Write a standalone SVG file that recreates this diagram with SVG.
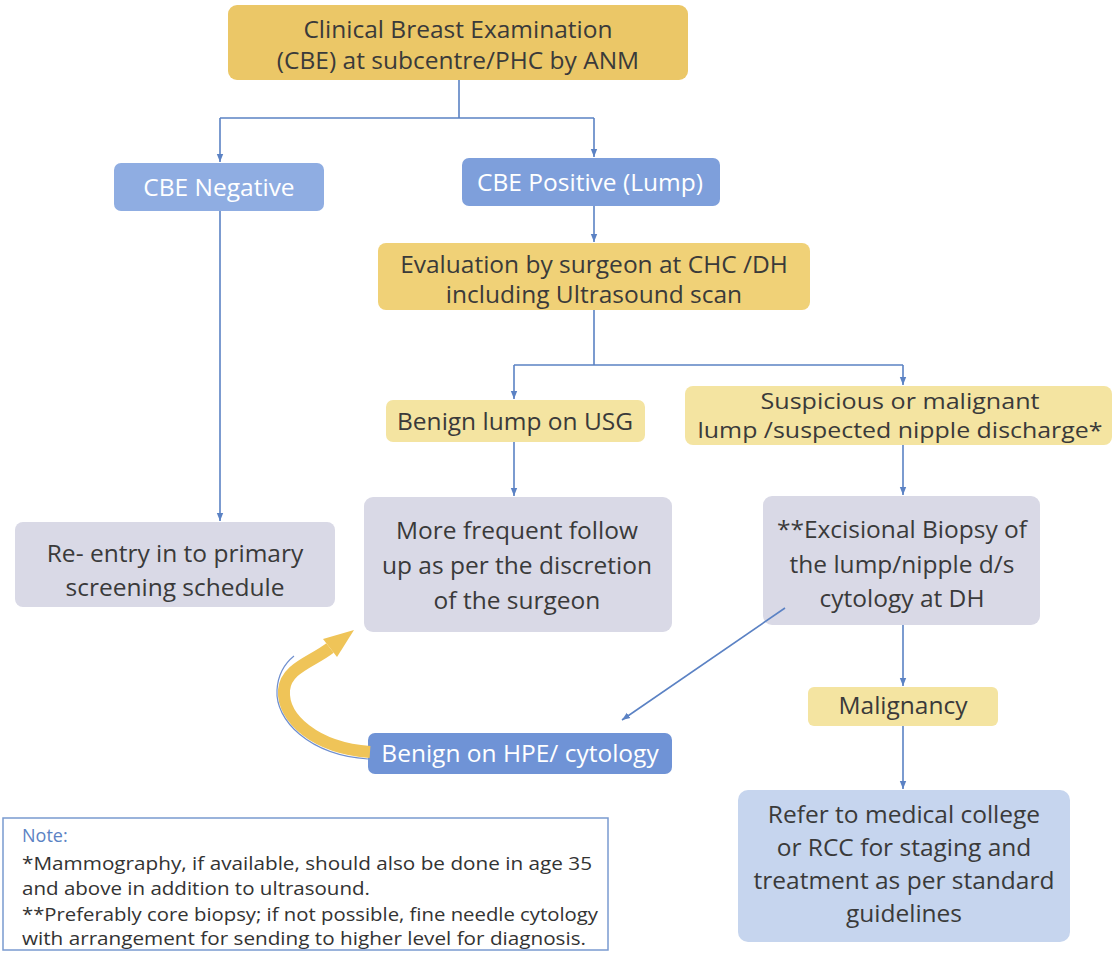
<svg xmlns="http://www.w3.org/2000/svg" width="1116" height="954" viewBox="0 0 1116 954">
<defs>
<style>
.t{font-family:"Open Sans","Noto Sans",sans-serif;font-size:24.5px;font-weight:500;fill:#3a3a3a;text-anchor:middle}
.w{fill:#ffffff}
.n{font-family:"Open Sans","Noto Sans",sans-serif;font-size:18px;fill:#333333}
.c{stroke:#5b82c4;stroke-width:1.6;fill:none}
.ca{stroke:#5b82c4;stroke-width:1.6;fill:none;marker-end:url(#ah)}
.ydark{fill:#ebc767}
.ylight{fill:#f4e4a1}
.gray{fill:#d9d9e6}
</style>
<marker id="ah" viewBox="0 0 10 10" refX="10" refY="5" markerWidth="8" markerHeight="8" markerUnits="userSpaceOnUse" orient="auto">
<path d="M0,1 L10,5 L0,9 Z" fill="#5b82c4"/>
</marker>
</defs>
<rect width="1116" height="954" fill="#ffffff"/>

<g id="n-cbe">
<rect x="228" y="5" width="460" height="75" rx="9" class="ydark"/>
<text class="t" x="458" y="38">Clinical Breast Examination</text>
<text class="t" x="458" y="69">(CBE) at subcentre/PHC by ANM</text>
</g>
<g id="n-neg">
<rect x="114" y="163" width="210" height="48" rx="7" fill="#8fade2"/>
<text class="t w" x="219" y="196">CBE Negative</text>
</g>
<g id="n-pos">
<rect x="462" y="158" width="258" height="48" rx="7" fill="#7e9fdb"/>
<text class="t w" x="590" y="191">CBE Positive (Lump)</text>
</g>
<g id="n-eval">
<rect x="378" y="243" width="432" height="67" rx="8" fill="#f0d177"/>
<text class="t" x="594" y="273">Evaluation by surgeon at CHC /DH</text>
<text class="t" x="594" y="303">including Ultrasound scan</text>
</g>
<g id="n-benign">
<rect x="386" y="400" width="259" height="42" rx="7" class="ylight"/>
<text class="t" x="515" y="430">Benign lump on USG</text>
</g>
<g id="n-susp">
<rect x="685" y="386" width="427" height="59" rx="8" class="ylight"/>
<text class="t" x="900" y="409" style="font-size:21px" textLength="279" lengthAdjust="spacingAndGlyphs">Suspicious or malignant</text>
<text class="t" x="900" y="438" style="font-size:21px" textLength="405" lengthAdjust="spacingAndGlyphs">lump /suspected nipple discharge*</text>
</g>
<g id="n-reentry">
<rect x="15" y="522" width="320" height="85" rx="8" class="gray"/>
<text class="t" x="175" y="562">Re- entry in to primary</text>
<text class="t" x="175" y="596">screening schedule</text>
</g>
<g id="n-follow">
<rect x="364" y="497" width="308" height="135" rx="9" class="gray"/>
<text class="t" x="517" y="539">More frequent follow</text>
<text class="t" x="517" y="574">up as per the discretion</text>
<text class="t" x="517" y="609">of the surgeon</text>
</g>
<g id="n-biopsy">
<rect x="763" y="496" width="277" height="129" rx="9" class="gray"/>
<text class="t" x="902" y="538">**Excisional Biopsy of</text>
<text class="t" x="902" y="573">the lump/nipple d/s</text>
<text class="t" x="902" y="607">cytology at DH</text>
</g>
<g id="n-malig">
<rect x="808" y="687" width="190" height="39" rx="6" class="ylight"/>
<text class="t" x="903" y="714">Malignancy</text>
</g>
<g id="n-hpe">
<rect x="368" y="733" width="304" height="41" rx="7" fill="#6f93d6"/>
<text class="t w" x="520" y="762">Benign on HPE/ cytology</text>
</g>
<g id="n-refer">
<rect x="738" y="790" width="332" height="152" rx="10" fill="#c6d5ee"/>
<text class="t" x="904" y="823">Refer to medical college</text>
<text class="t" x="904" y="856">or RCC for staging and</text>
<text class="t" x="904" y="889">treatment as per standard</text>
<text class="t" x="904" y="922">guidelines</text>
</g>
<g id="n-note">
<rect x="3" y="818" width="605" height="132" fill="#ffffff" stroke="#7a9ad0" stroke-width="1.5"/>
<text class="n" x="22" y="842" style="fill:#5b82c4">Note:</text>
<text class="n" x="22" y="870" textLength="570" lengthAdjust="spacingAndGlyphs">*Mammography, if available, should also be done in age 35</text>
<text class="n" x="22" y="895" textLength="348" lengthAdjust="spacingAndGlyphs">and above in addition to ultrasound.</text>
<text class="n" x="22" y="921" textLength="576" lengthAdjust="spacingAndGlyphs">**Preferably core biopsy; if not possible, fine needle cytology</text>
<text class="n" x="22" y="945" textLength="564" lengthAdjust="spacingAndGlyphs">with arrangement for sending to higher level for diagnosis.</text>
</g>

<g id="connectors">
<path class="c" d="M459,80 V118 M220,118 H594"/>
<path class="ca" d="M220,118 V162"/>
<path class="ca" d="M594,118 V157"/>
<path class="ca" d="M594,206 V242"/>
<path class="ca" d="M220,211 V521"/>
<path class="c" d="M594,310 V365 M514,365 H903"/>
<path class="ca" d="M514,365 V399"/>
<path class="ca" d="M903,365 V385"/>
<path class="ca" d="M514,442 V496"/>
<path class="ca" d="M903,445 V495"/>
<path class="ca" d="M903,625 V686"/>
<path class="ca" d="M903,726 V789"/>
<path class="ca" d="M785,608 L622,720"/>
<path d="M370,752 C315,748 282,718 284,690 C286,668 312,662 330,648" fill="none" stroke="#efc458" stroke-width="12"/>
<path d="M368,759 C309,755 275,720 277,690 C278,674 284,664 294,656" fill="none" stroke="#6f8fcf" stroke-width="1.2"/>
<polygon points="354,630 337,657 323,639" fill="#efc458"/>
</g>
</svg>
